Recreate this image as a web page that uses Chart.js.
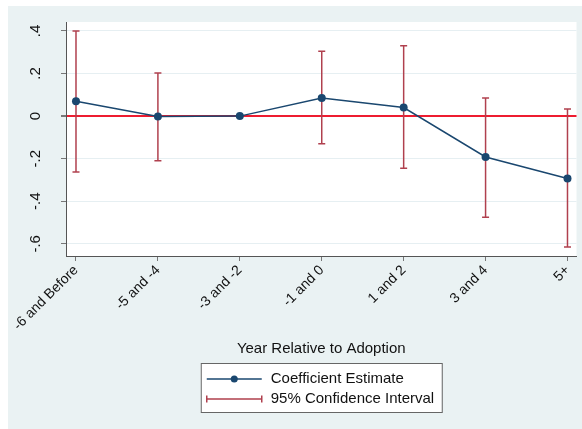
<!DOCTYPE html>
<html>
<head>
<meta charset="utf-8">
<script src="https://cdn.jsdelivr.net/npm/chart.js@4"></script>
<style>
  html, body { margin: 0; padding: 0; background: #ffffff; }
  #wrap { position: absolute; left: 8px; top: 6px; width: 574px; height: 423px; background: #eaf2f3; }
</style>
</head>
<body>
<div id="wrap"><canvas id="chart" width="574" height="423"></canvas></div>
<script>
// categories along the x axis
const periods = ['-6 and Before', '-5 and -4', '-3 and -2', '-1 and 0', '1 and 2', '3 and 4', '5+'];
// point estimates (reference period -3 and -2 is zero)
const estimates = [0.07, -0.002, 0.0, 0.085, 0.04, -0.192, -0.293];
// 95% CI bounds, null where there's no interval
const ciLow  = [-0.263, -0.21, null, -0.13, -0.245, -0.475, -0.615];
const ciHigh = [0.40, 0.203, null, 0.305, 0.33, 0.085, 0.033];
// y tick values + their labels (stata style, no leading zero)
const yTicks = [-0.6, -0.4, -0.2, 0, 0.2, 0.4];
const yTickLabels = ['-.6', '-.4', '-.2', '0', '.2', '.4'];

const navy = '#1a476f';
const barRed = '#b0404e';
const zeroRed = '#ee1c30';
const font = 'Liberation Sans, Arial, sans-serif';

// build the CI segments, null point between each to break the line
const ciPoints = [];
periods.forEach((p, i) => {
    if (ciLow[i] == null) return;
    ciPoints.push({x: i, y: ciLow[i]});
    ciPoints.push({x: i, y: ciHigh[i]});
    ciPoints.push({x: i, y: null});
});

const plotBg = {
    id: 'plotBg',
    beforeDraw(chart) {
        const {ctx, chartArea: a} = chart;
        ctx.save();
        ctx.fillStyle = '#ffffff';
        ctx.fillRect(a.left, a.top, a.right - a.left, a.bottom - a.top);
        ctx.restore();
    }
};

// y labels turned sideways, centred on the tick
const yLabels = {
    id: 'yLabels',
    afterDraw(chart) {
        const ctx = chart.ctx;
        const s = chart.scales.y;
        ctx.save();
        ctx.fillStyle = '#111111';
        ctx.font = '15px ' + font;
        ctx.textAlign = 'center';
        ctx.textBaseline = 'middle';
        yTicks.forEach((v, i) => {
            ctx.save();
            ctx.translate(s.right - 30, s.getPixelForValue(v));
            ctx.rotate(-Math.PI / 2);
            ctx.fillText(yTickLabels[i], 0, 0);
            ctx.restore();
        });
        ctx.restore();
    }
};

// stata-ish legend box under the axis title
const boxLegend = {
    id: 'boxLegend',
    afterDraw(chart) {
        const ctx = chart.ctx;
        const a = chart.chartArea;
        const cx = (a.left + a.right) / 2;
        const w = 241, h = 49;
        const left = cx - w / 2, top = 357;
        ctx.save();
        ctx.fillStyle = '#ffffff';
        ctx.fillRect(left, top, w, h);
        ctx.strokeStyle = '#666666';
        ctx.lineWidth = 1;
        ctx.strokeRect(left + 0.5, top + 0.5, w, h);

        const sx1 = left + 6, sx2 = left + 61;
        const y1 = top + 16, y2 = top + 36;
        // series symbol
        ctx.strokeStyle = navy;
        ctx.lineWidth = 1.5;
        ctx.beginPath(); ctx.moveTo(sx1, y1); ctx.lineTo(sx2, y1); ctx.stroke();
        ctx.fillStyle = navy;
        ctx.beginPath(); ctx.arc((sx1 + sx2) / 2, y1, 3.5, 0, Math.PI * 2); ctx.fill();
        // ci symbol
        ctx.strokeStyle = barRed;
        ctx.lineWidth = 1.5;
        ctx.beginPath();
        ctx.moveTo(sx1, y2); ctx.lineTo(sx2, y2);
        ctx.moveTo(sx1, y2 - 3.5); ctx.lineTo(sx1, y2 + 3.5);
        ctx.moveTo(sx2, y2 - 3.5); ctx.lineTo(sx2, y2 + 3.5);
        ctx.stroke();

        ctx.fillStyle = '#111111';
        ctx.font = '15px ' + font;
        ctx.textBaseline = 'middle';
        ctx.textAlign = 'left';
        ctx.fillText('Coefficient Estimate', left + 70, y1);
        ctx.fillText('95% Confidence Interval', left + 70, y2);
        ctx.restore();
    }
};

new Chart(document.getElementById('chart'), {
    type: 'line',
    data: {
        datasets: [
            {
                label: 'Coefficient Estimate',
                data: estimates.map((v, i) => ({x: i, y: v})),
                borderColor: navy,
                backgroundColor: navy,
                borderWidth: 1.5,
                pointRadius: 4,
                pointBorderWidth: 0,
                tension: 0,
                order: 0
            },
            {
                label: '95% Confidence Interval',
                data: ciPoints,
                borderColor: barRed,
                borderWidth: 1.5,
                spanGaps: false,
                pointStyle: 'line',
                pointRadius: 3.5,
                pointBorderColor: barRed,
                pointBorderWidth: 1.5,
                order: 1
            }
        ]
    },
    options: {
        responsive: false,
        animation: false,
        layout: { padding: { top: 16, right: 5, bottom: 70, left: 0 } },
        plugins: {
            legend: { display: false },
            tooltip: { enabled: false }
        },
        scales: {
            x: {
                type: 'linear',
                min: -0.122,
                max: 6.11,
                afterBuildTicks: (s) => { s.ticks = periods.map((p, i) => ({value: i})); },
                afterFit: (s) => { s.height = 103; },
                ticks: {
                    callback: (v) => periods[v],
                    minRotation: 45,
                    maxRotation: 45,
                    color: '#111111',
                    font: { family: font, size: 14 },
                    padding: 1
                },
                grid: { drawOnChartArea: false, drawTicks: true, tickLength: 5, tickColor: '#777777' },
                border: { color: '#555555', width: 1 },
                title: {
                    display: true,
                    text: 'Year Relative to Adoption',
                    color: '#111111',
                    font: { family: font, size: 15 },
                    padding: { top: 4, bottom: 1 }
                }
            },
            y: {
                min: -0.657,
                max: 0.442,
                afterBuildTicks: (s) => { s.ticks = yTicks.map(v => ({value: v})); },
                afterFit: (s) => { s.width = 58; },
                ticks: { display: false },
                grid: {
                    color: (c) => c.tick && c.tick.value === 0 ? zeroRed : '#e6eff2',
                    lineWidth: (c) => c.tick && c.tick.value === 0 ? 2 : 1,
                    tickColor: '#777777',
                    tickLength: 5
                },
                border: { color: '#555555', width: 1 }
            }
        }
    },
    plugins: [plotBg, yLabels, boxLegend]
});
</script>
</body>
</html>
